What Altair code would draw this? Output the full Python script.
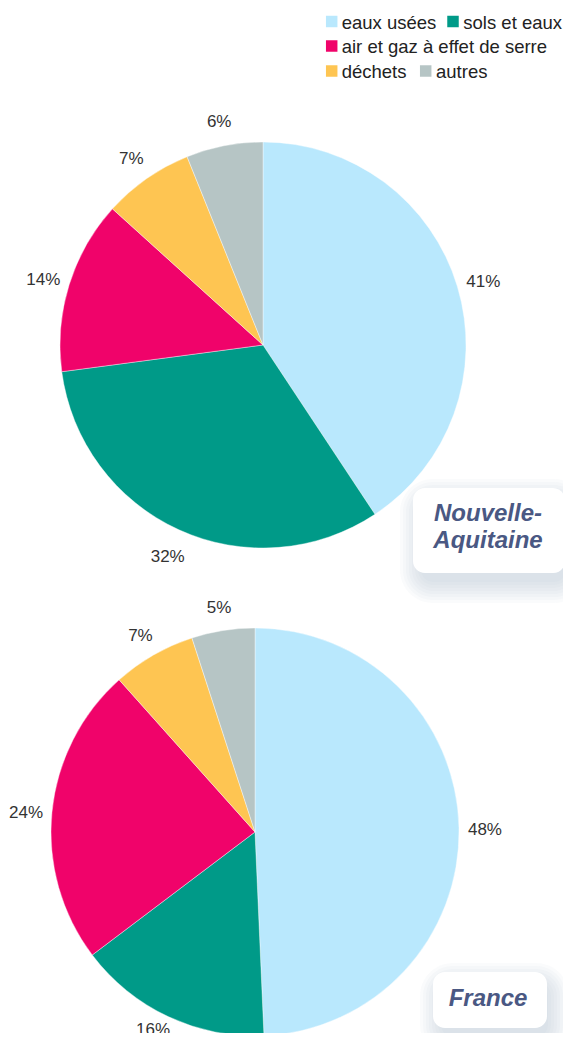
import altair as alt
import pandas as pd

# ---- data ----
categories = ["eaux usées", "sols et eaux", "air et gaz à effet de serre", "déchets", "autres"]
colors = ["#b9e8fd", "#009a88", "#f0036a", "#fec552", "#b6c5c5"]

na_values = [40.7, 32.2, 13.8, 7.2, 6.1]
na_labels = ["41%", "32%", "14%", "7%", "6%"]

fr_values = [49.3, 15.4, 23.7, 6.6, 5.0]
fr_labels = ["48%", "16%", "24%", "7%", "5%"]

regions = ["Nouvelle-Aquitaine", "France"]

FONT = "Liberation Sans"
M = 8  # page margin


def P(v):
    return v - M


color_scale = alt.Scale(domain=categories, range=colors)


def pie(values, labels, cx, cy, r, label_r, pulled=None):
    """pulled: category whose label is drawn slightly closer to the pie
    (so that it stays inside the page, as in the original)."""
    df = pd.DataFrame({
        "category": categories,
        "value": values,
        "label": labels,
        "order": list(range(len(categories))),
    })
    base = alt.Chart(df).encode(
        theta=alt.Theta("value:Q", stack=True),
        order=alt.Order("order:Q"),
        color=alt.Color("category:N", scale=color_scale, legend=None),
    )
    arc = base.mark_arc(outerRadius=r, stroke="white", strokeWidth=0.4).encode(
        x=alt.value(P(cx)), y=alt.value(P(cy))
    )
    is_pulled = alt.datum.category == (pulled or "")
    txt = base.mark_text(radius=label_r, fontSize=17, font=FONT, dy=3).encode(
        text="label:N", x=alt.value(P(cx)), y=alt.value(P(cy)),
        color=alt.value("#333333"),
        opacity=alt.condition(is_pulled, alt.value(0), alt.value(1)),
    )
    out = [arc, txt]
    if pulled:
        txt2 = base.mark_text(radius=label_r - 14, fontSize=17, font=FONT, dy=3, dx=-10).encode(
            text="label:N", x=alt.value(P(cx)), y=alt.value(P(cy)),
            color=alt.value("#333333"),
            opacity=alt.condition(is_pulled, alt.value(1), alt.value(0)),
        )
        out.append(txt2)
    return out


def box(x0, y0, x1, y1):
    layers = []
    dummy = pd.DataFrame({"a": [0]})
    for k in range(8):
        s = k * 3
        layers.append(
            alt.Chart(dummy).mark_rect(
                color="#aab3cc", opacity=0.06, cornerRadius=12 + s
            ).encode(
                x=alt.value(P(x0 + 8 - s)), x2=alt.value(P(x1 + 1 + s)),
                y=alt.value(P(y0 + 12 - s)), y2=alt.value(P(y1 + 9 + s)),
            )
        )
    layers.append(
        alt.Chart(dummy).mark_rect(color="white", cornerRadius=12).encode(
            x=alt.value(P(x0)), x2=alt.value(P(x1)),
            y=alt.value(P(y0)), y2=alt.value(P(y1)),
        )
    )
    return layers


def title_text(txt, x, y):
    dummy = pd.DataFrame({"a": [0]})
    return alt.Chart(dummy).mark_text(
        text=txt, font=FONT, fontSize=24, fontWeight="bold", fontStyle="italic",
        color="#4a5883", align="center", baseline="middle",
    ).encode(x=alt.value(P(x)), y=alt.value(P(y)))


layers = []

layers += pie(na_values, na_labels, 263, 345, 203, 230)
layers += pie(fr_values, fr_labels, 255, 832, 204, 230, pulled="sols et eaux")

# region boxes
layers += box(413, 488, 565, 573)
layers.append(title_text("Nouvelle-", 488, 514))
layers.append(title_text("Aquitaine", 488, 541))
layers += box(433, 972, 547, 1028)
layers.append(title_text(regions[1], 488, 999))

# custom legend (flow layout like the original)
legend_layout = [
    (331.7, 341.7, 21.5),
    (453.0, 463.3, 21.5),
    (331.7, 341.7, 46.0),
    (331.7, 341.7, 71.0),
    (425.7, 436.0, 71.0),
]
for cat, (sx, tx, ty) in zip(categories, legend_layout):
    d = pd.DataFrame({"category": [cat]})
    layers.append(
        alt.Chart(d).mark_square(size=132, opacity=1).encode(
            x=alt.value(P(sx)), y=alt.value(P(ty)),
            color=alt.Color("category:N", scale=color_scale, legend=None),
        )
    )
    layers.append(
        alt.Chart(d).mark_text(
            font=FONT, fontSize=18.5, color="#222222", align="left", baseline="middle"
        ).encode(
            x=alt.value(P(tx)), y=alt.value(P(ty + 1)), text="category:N"
        )
    )

chart = alt.layer(*layers).resolve_scale(theta="independent").properties(
    width=555, height=1025, padding=0,
    autosize=alt.AutoSizeParams(type="none"),
).configure_view(stroke=None)

chart.save("out.html", embed_options={"renderer": "svg", "actions": False})
